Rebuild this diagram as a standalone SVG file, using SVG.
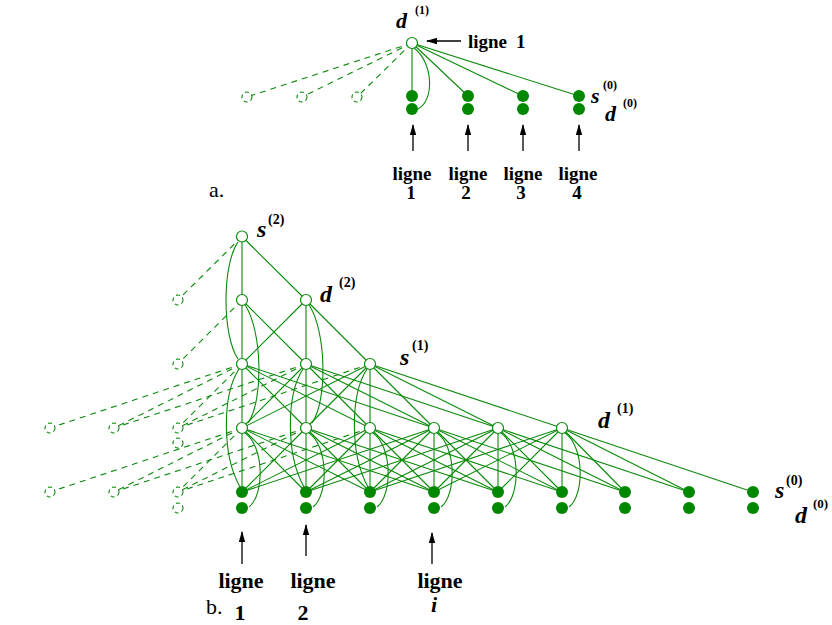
<svg xmlns="http://www.w3.org/2000/svg" width="832" height="625" viewBox="0 0 832 625">
<style>
.e{stroke:#0a8a0a;stroke-width:1.1;fill:none}
.g{stroke:#0a8a0a;stroke-width:1.1;fill:none;stroke-dasharray:6 5}
.n{fill:#fff;stroke:#0a8a0a;stroke-width:1.2}
.f{fill:#008800}
.gh{fill:#fff;stroke:#0a8a0a;stroke-width:1.1;stroke-dasharray:4 3}
.ar{stroke:#000;stroke-width:1.3;fill:none;marker-end:url(#ah)}
.lb{font-family:"Liberation Serif",serif;font-weight:bold;fill:#000}
.v{font-family:"Liberation Serif",serif;font-weight:bold;font-style:italic;fill:#000}
.sup{font-family:"Liberation Serif",serif;font-weight:bold;fill:#000}
.cap{font-family:"Liberation Serif",serif;fill:#000}
</style>
<defs>
<marker id="ah" markerWidth="11" markerHeight="7" refX="10" refY="3.5" orient="auto" markerUnits="userSpaceOnUse">
<path d="M0,0.3 L11,3.5 L0,6.7 Z" fill="#000"/>
</marker>
</defs>

<!-- ===== Part a ===== -->
<g id="a-connectors">
<line class="e" x1="412" y1="43" x2="412" y2="96"/>
<line class="e" x1="412" y1="43" x2="468" y2="96"/>
<line class="e" x1="412" y1="43" x2="523" y2="96"/>
<line class="e" x1="412" y1="43" x2="579" y2="96"/>
<path class="e" d="M414,48 C433,62 435,100 418,109"/>
<line class="g" x1="412" y1="43" x2="357" y2="97"/>
<line class="g" x1="412" y1="43" x2="302" y2="97"/>
<line class="g" x1="412" y1="43" x2="247" y2="97"/>
</g>
<g id="a-nodes">
<g id="a-d1"><circle class="n" cx="412" cy="43" r="5.5"/></g>
<g id="a-g1"><circle class="gh" cx="357" cy="97" r="5"/></g>
<g id="a-g2"><circle class="gh" cx="302" cy="97" r="5"/></g>
<g id="a-g3"><circle class="gh" cx="247" cy="97" r="5"/></g>
<g id="a-c1"><circle class="f" cx="412" cy="96" r="6"/><circle class="f" cx="412" cy="109" r="6"/></g>
<g id="a-c2"><circle class="f" cx="468" cy="96" r="6"/><circle class="f" cx="468" cy="109" r="6"/></g>
<g id="a-c3"><circle class="f" cx="523" cy="96" r="6"/><circle class="f" cx="523" cy="109" r="6"/></g>
<g id="a-c4"><circle class="f" cx="579" cy="96" r="6"/><circle class="f" cx="579" cy="109" r="6"/></g>
</g>
<g id="a-arrows">
<line class="ar" x1="461" y1="41" x2="427" y2="41"/>
<line class="ar" x1="413" y1="151" x2="413" y2="125"/>
<line class="ar" x1="468" y1="151" x2="468" y2="125"/>
<line class="ar" x1="523" y1="151" x2="523" y2="125"/>
<line class="ar" x1="579" y1="151" x2="579" y2="125"/>
</g>
<g id="a-labels">
<text class="v" x="396" y="28" font-size="22">d</text>
<text class="sup" x="415" y="14" font-size="12">(1)</text>
<text class="lb" x="468" y="48" font-size="19">ligne</text>
<text class="lb" x="516" y="48" font-size="19">1</text>
<text class="v" x="591" y="103" font-size="22">s</text>
<text class="sup" x="603" y="89" font-size="12">(0)</text>
<text class="v" x="605" y="121" font-size="22">d</text>
<text class="sup" x="623" y="107" font-size="12">(0)</text>
<g font-size="19" text-anchor="middle">
<text class="lb" x="412" y="180">ligne</text><text class="lb" x="411" y="199">1</text>
<text class="lb" x="468" y="180">ligne</text><text class="lb" x="466" y="199">2</text>
<text class="lb" x="523" y="180">ligne</text><text class="lb" x="521" y="199">3</text>
<text class="lb" x="578" y="180">ligne</text><text class="lb" x="577" y="199">4</text>
</g>
<text class="cap" x="209" y="197" font-size="22">a.</text>
</g>

<!-- ===== Part b ===== -->
<g id="b-connectors">
<line class="e" x1="242" y1="236.5" x2="242" y2="492"/>
<line class="e" x1="306" y1="300" x2="306" y2="492"/>
<line class="e" x1="370" y1="364" x2="370" y2="492"/>
<line class="e" x1="434" y1="428" x2="434" y2="492"/>
<line class="e" x1="498" y1="428" x2="498" y2="492"/>
<line class="e" x1="562" y1="428" x2="562" y2="492"/>
<line class="e" x1="242" y1="236.5" x2="306" y2="300"/>
<line class="g" x1="242" y1="236.5" x2="178" y2="300"/>
<path class="e" d="M238,242 C222,265 222,335 238,359"/>
<line class="e" x1="242" y1="300" x2="306" y2="364"/>
<line class="g" x1="242" y1="300" x2="178" y2="364"/>
<line class="e" x1="306" y1="300" x2="242" y2="364"/>
<line class="e" x1="306" y1="300" x2="370" y2="364"/>
<path class="e" d="M245,305 C262,330 264,400 248,423"/>
<path class="e" d="M309,305 C326,330 328,400 312,423"/>
<line class="e" x1="242" y1="364" x2="306" y2="428"/>
<line class="e" x1="242" y1="364" x2="370" y2="428"/>
<line class="e" x1="242" y1="364" x2="434" y2="428"/>
<line class="g" x1="242" y1="364" x2="178" y2="428"/>
<line class="g" x1="242" y1="364" x2="114" y2="428"/>
<line class="g" x1="242" y1="364" x2="50" y2="428"/>
<line class="e" x1="306" y1="364" x2="242" y2="428"/>
<line class="e" x1="306" y1="364" x2="370" y2="428"/>
<line class="e" x1="306" y1="364" x2="434" y2="428"/>
<line class="e" x1="306" y1="364" x2="498" y2="428"/>
<line class="g" x1="306" y1="364" x2="178" y2="428"/>
<line class="g" x1="306" y1="364" x2="114" y2="428"/>
<line class="e" x1="370" y1="364" x2="242" y2="428"/>
<line class="e" x1="370" y1="364" x2="306" y2="428"/>
<line class="e" x1="370" y1="364" x2="434" y2="428"/>
<line class="e" x1="370" y1="364" x2="498" y2="428"/>
<line class="e" x1="370" y1="364" x2="562" y2="428"/>
<line class="g" x1="370" y1="364" x2="178" y2="428"/>
<path class="e" d="M239,369 C222,395 222,455 240,487"/>
<path class="e" d="M303,369 C286,395 286,455 304,487"/>
<path class="e" d="M367,369 C350,395 350,455 368,487"/>
<line class="e" x1="242" y1="428" x2="306" y2="492"/>
<line class="e" x1="242" y1="428" x2="370" y2="492"/>
<line class="e" x1="242" y1="428" x2="434" y2="492"/>
<line class="g" x1="242" y1="428" x2="178" y2="492"/>
<line class="g" x1="242" y1="428" x2="114" y2="492"/>
<line class="g" x1="242" y1="428" x2="50" y2="492"/>
<line class="e" x1="306" y1="428" x2="242" y2="492"/>
<line class="e" x1="306" y1="428" x2="370" y2="492"/>
<line class="e" x1="306" y1="428" x2="434" y2="492"/>
<line class="e" x1="306" y1="428" x2="498" y2="492"/>
<line class="g" x1="306" y1="428" x2="178" y2="492"/>
<line class="g" x1="306" y1="428" x2="114" y2="492"/>
<line class="e" x1="370" y1="428" x2="242" y2="492"/>
<line class="e" x1="370" y1="428" x2="306" y2="492"/>
<line class="e" x1="370" y1="428" x2="434" y2="492"/>
<line class="e" x1="370" y1="428" x2="498" y2="492"/>
<line class="e" x1="370" y1="428" x2="562" y2="492"/>
<line class="g" x1="370" y1="428" x2="178" y2="492"/>
<line class="e" x1="434" y1="428" x2="242" y2="492"/>
<line class="e" x1="434" y1="428" x2="306" y2="492"/>
<line class="e" x1="434" y1="428" x2="370" y2="492"/>
<line class="e" x1="434" y1="428" x2="498" y2="492"/>
<line class="e" x1="434" y1="428" x2="562" y2="492"/>
<line class="e" x1="434" y1="428" x2="625" y2="492"/>
<line class="e" x1="498" y1="428" x2="306" y2="492"/>
<line class="e" x1="498" y1="428" x2="370" y2="492"/>
<line class="e" x1="498" y1="428" x2="434" y2="492"/>
<line class="e" x1="498" y1="428" x2="562" y2="492"/>
<line class="e" x1="498" y1="428" x2="625" y2="492"/>
<line class="e" x1="498" y1="428" x2="689" y2="492"/>
<line class="e" x1="562" y1="428" x2="370" y2="492"/>
<line class="e" x1="562" y1="428" x2="434" y2="492"/>
<line class="e" x1="562" y1="428" x2="498" y2="492"/>
<line class="e" x1="562" y1="428" x2="625" y2="492"/>
<line class="e" x1="562" y1="428" x2="689" y2="492"/>
<line class="e" x1="562" y1="428" x2="753" y2="492"/>
<path class="e" d="M245,433 C264,446 265,494 249,507"/>
<path class="e" d="M309,433 C328,446 329,494 313,507"/>
<path class="e" d="M373,433 C392,446 393,494 377,507"/>
<path class="e" d="M437,433 C456,446 457,494 441,507"/>
<path class="e" d="M501,433 C520,446 521,494 505,507"/>
<path class="e" d="M565,433 C584,446 585,494 569,507"/>
</g>
<g id="b-nodes">
<g id="s2-0"><circle class="n" cx="242" cy="236.5" r="5.5"/></g>
<g id="d2-0"><circle class="n" cx="242" cy="300" r="5.5"/></g>
<g id="d2-1"><circle class="n" cx="306" cy="300" r="5.5"/></g>
<g id="s1-0"><circle class="n" cx="242" cy="364" r="5.5"/></g>
<g id="s1-1"><circle class="n" cx="306" cy="364" r="5.5"/></g>
<g id="s1-2"><circle class="n" cx="370" cy="364" r="5.5"/></g>
<g id="d1-0"><circle class="n" cx="242" cy="428" r="5.5"/></g>
<g id="d1-1"><circle class="n" cx="306" cy="428" r="5.5"/></g>
<g id="d1-2"><circle class="n" cx="370" cy="428" r="5.5"/></g>
<g id="d1-3"><circle class="n" cx="434" cy="428" r="5.5"/></g>
<g id="d1-4"><circle class="n" cx="498" cy="428" r="5.5"/></g>
<g id="d1-5"><circle class="n" cx="562" cy="428" r="5.5"/></g>
<g id="col0"><circle class="f" cx="242" cy="492" r="6"/><circle class="f" cx="242" cy="508" r="6"/></g>
<g id="col1"><circle class="f" cx="306" cy="492" r="6"/><circle class="f" cx="306" cy="508" r="6"/></g>
<g id="col2"><circle class="f" cx="370" cy="492" r="6"/><circle class="f" cx="370" cy="508" r="6"/></g>
<g id="col3"><circle class="f" cx="434" cy="492" r="6"/><circle class="f" cx="434" cy="508" r="6"/></g>
<g id="col4"><circle class="f" cx="498" cy="492" r="6"/><circle class="f" cx="498" cy="508" r="6"/></g>
<g id="col5"><circle class="f" cx="562" cy="492" r="6"/><circle class="f" cx="562" cy="508" r="6"/></g>
<g id="col6"><circle class="f" cx="625" cy="492" r="6"/><circle class="f" cx="625" cy="508" r="6"/></g>
<g id="col7"><circle class="f" cx="689" cy="492" r="6"/><circle class="f" cx="689" cy="508" r="6"/></g>
<g id="col8"><circle class="f" cx="753" cy="492" r="6"/><circle class="f" cx="753" cy="508" r="6"/></g>
<g id="ghosts">
<circle class="gh" cx="178" cy="300" r="5"/>
<circle class="gh" cx="178" cy="364" r="5"/>
<circle class="gh" cx="50" cy="428" r="5"/>
<circle class="gh" cx="114" cy="428" r="5"/>
<circle class="gh" cx="178" cy="428" r="5"/>
<circle class="gh" cx="178" cy="443" r="5"/>
<circle class="gh" cx="50" cy="492" r="5"/>
<circle class="gh" cx="114" cy="492" r="5"/>
<circle class="gh" cx="178" cy="492" r="5"/>
<circle class="gh" cx="178" cy="508" r="5"/>
</g>
</g>
<g id="b-arrows">
<line class="ar" x1="242" y1="564" x2="242" y2="532"/>
<line class="ar" x1="306" y1="556" x2="306" y2="525"/>
<line class="ar" x1="432" y1="564" x2="432" y2="533"/>
</g>
<g id="b-labels">
<text class="v" x="257" y="237" font-size="24">s</text>
<text class="sup" x="268" y="224" font-size="14">(2)</text>
<text class="v" x="320" y="302" font-size="24">d</text>
<text class="sup" x="339" y="287" font-size="14">(2)</text>
<text class="v" x="400" y="365" font-size="24">s</text>
<text class="sup" x="412" y="350" font-size="14">(1)</text>
<text class="v" x="598" y="428" font-size="24">d</text>
<text class="sup" x="617" y="413" font-size="14">(1)</text>
<text class="v" x="775" y="498" font-size="24">s</text>
<text class="sup" x="786" y="485" font-size="14">(0)</text>
<text class="v" x="795" y="523" font-size="24">d</text>
<text class="sup" x="813" y="508" font-size="13">(0)</text>
<g font-size="22" text-anchor="middle">
<text class="lb" x="241" y="588">ligne</text>
<text class="lb" x="313" y="588">ligne</text>
<text class="lb" x="440" y="588">ligne</text>
<text class="lb" x="240" y="620">1</text>
<text class="lb" x="303" y="620">2</text>
<text class="v" x="434" y="612">i</text>
</g>
<text class="cap" x="206" y="614" font-size="22">b.</text>
</g>
</svg>
